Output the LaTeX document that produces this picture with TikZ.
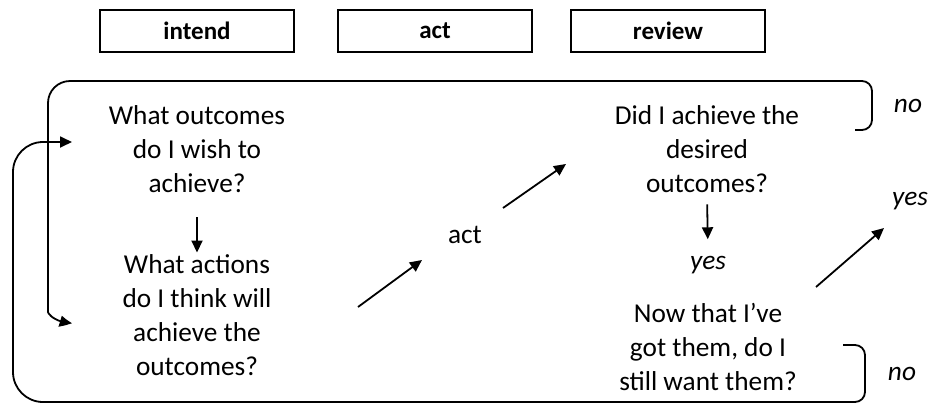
\documentclass[tikz,border=0pt]{standalone}
\usepackage{fontspec}
\setmainfont{Carlito}
\usetikzlibrary{arrows.meta,bending}

\begin{document}
\begin{tikzpicture}[x=1pt,y=-1pt,line width=1.8pt,
    head/.style={draw,line width=1.3pt,minimum width=194pt,minimum height=42pt,
      font=\fontsize{25}{28}\selectfont\bfseries},
    question/.style={align=center,inner sep=0pt,font=\fontsize{27.3}{34}\selectfont},
    answer/.style={inner sep=0pt,font=\fontsize{27.3}{34}\selectfont\itshape},
    arr/.style={-{Triangle[length=12pt,width=11pt]}}]
  \useasboundingbox (0,0) rectangle (928,408);

  % column heads
  \node[head] (intend) at (197,31) {intend};
  \node[head] (acthead) at (435,31) {act};
  \node[head] (review) at (668,31) {review};

  % intend
  \node[question] (outcomes) at (197,149) {What outcomes\\do I wish to\\achieve?};
  \node[question] (actions) at (197,315) {What actions\\do I think will\\achieve the\\outcomes?};
  \draw[arr,shorten <=24pt,shorten >=1pt] (outcomes.south) -- (actions.north);

  % act
  \node[question] (act) at (465,235) {act};
  \coordinate (in1) at (358,307);
  \coordinate (in2) at (422,260);
  \coordinate (out1) at (503,208);
  \coordinate (out2) at (566,164);
  \draw[arr] (in1) -- (in2);
  \draw[arr] (out1) -- (out2);

  % review
  \node[question] (achieved) at (707,149) {Did I achieve the\\desired\\outcomes?};
  \node[answer] (yesmid) at (708,265) {yes};
  \node[question] (still) at (708,347) {Now that I’ve\\got them, do I\\still want them?};
  \draw[arr,shorten <=11pt,shorten >=16pt] (achieved.south) -- (yesmid.north);

  \node[answer] (notop) at (908,106) {no};
  \node[answer] (yesend) at (910,201) {yes};
  \node[answer] (nobot) at (902,374) {no};
  \coordinate (y1) at (816,287);
  \coordinate (y2) at (884,228);
  \draw[arr] (y1) -- (y2);

  % loops back to intend
  \coordinate (back1) at (72,323);
  \coordinate (back2) at (72,142);
  \draw[-{Triangle[length=12pt,width=11pt,bend]},rounded corners=10pt]
    (855,130) -- (872,130) -- (872,81)
    [rounded corners=22pt] -- (48,81) -- (48,290)
    [sharp corners] .. controls (48,314) and (56,323) .. (back1);
  \draw[arr,rounded corners=10pt] (843,345) -- (865,345) -- (865,402)
    [rounded corners=30pt] -- (13,402) -- (13,142) -- (back2);
\end{tikzpicture}
\end{document}
